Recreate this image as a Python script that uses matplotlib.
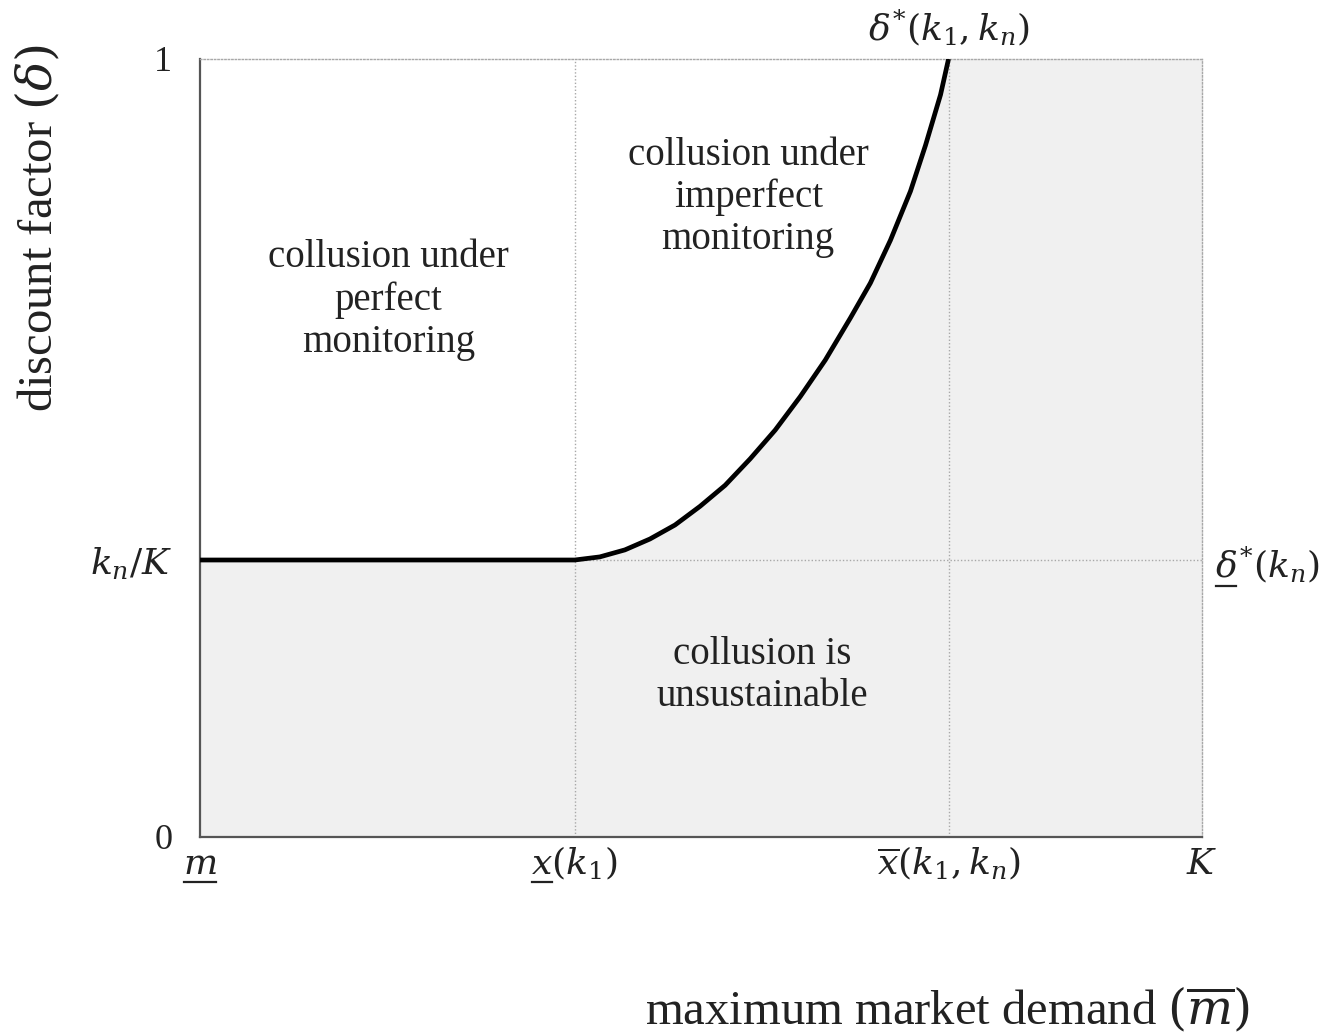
import matplotlib
matplotlib.use("Agg")
import matplotlib.pyplot as plt
from matplotlib.lines import Line2D
import numpy as np

plt.rcParams["font.family"] = ["Liberation Serif", "DejaVu Serif"]
plt.rcParams["mathtext.fontset"] = "dejavuserif"

# thresholds on the demand axis (share of K) and on the discount factor
x_low = 0.374      # x(k1)
x_high = 0.747     # xbar(k1, kn)
delta_low = 0.356  # kn / K

# critical discount factor between x(k1) and xbar(k1, kn)
curve_x = [0.374, 0.399, 0.424, 0.449, 0.474, 0.499, 0.524, 0.549, 0.574,
           0.599, 0.624, 0.649, 0.669, 0.689, 0.709, 0.724, 0.739, 0.747]
curve_y = [0.356, 0.360, 0.369, 0.383, 0.401, 0.425, 0.452, 0.486, 0.523,
           0.566, 0.613, 0.667, 0.712, 0.767, 0.830, 0.889, 0.954, 1.000]

x_ticks = [0.0, x_low, x_high, 1.0]
x_labels = [r"$m$", r"$x(k_1)$", r"$\overline{x}(k_1,k_n)$", r"$K$"]
x_underlined = [r"$m$", r"$x$", None, None]   # leading symbol to underline
y_ticks = [0.0, delta_low, 1.0]
y_labels = ["0", r"$k_n/K$", "1"]

text_color = "#222222"
fill_color = "#f0f0f0"
grid_color = "#a8a8a8"

fig = plt.figure(figsize=(13.38, 10.36), dpi=100)
ax = fig.add_axes([0.1495, 0.1921, 0.7489, 0.7510])

# boundary: flat part, rising part, then the top of the box
bx = np.concatenate([[0.0], curve_x, [1.0]])
by = np.concatenate([[delta_low], curve_y, [1.0]])
ax.fill_between(bx, 0, by, color=fill_color, lw=0, zorder=1)

dots = (0, (1, 1.5))
for xv in (x_low, x_high):
    ax.axvline(xv, color=grid_color, ls=dots, lw=1, zorder=2)
ax.axhline(delta_low, color=grid_color, ls=dots, lw=1, zorder=2)

ax.plot(np.concatenate([[0.0], curve_x]), np.concatenate([[delta_low], curve_y]),
        color="black", lw=3.4, solid_capstyle="butt", solid_joinstyle="round",
        zorder=4)

ax.set_xlim(0, 1)
ax.set_ylim(0, 1)

for side in ("top", "right"):
    ax.spines[side].set_color(grid_color)
    ax.spines[side].set_linestyle(dots)
    ax.spines[side].set_linewidth(1)
for side in ("left", "bottom"):
    ax.spines[side].set_color("#555555")
    ax.spines[side].set_linewidth(1.6)

math_fs = 26
ax.set_xticks([])
ax.set_yticks(y_ticks)
ax.set_yticklabels(y_labels, fontsize=26, color=text_color)
ax.tick_params(axis="y", length=0, pad=20)

xtrans = ax.get_xaxis_transform()
underlined = []
for xv, lab, sym in zip(x_ticks, x_labels, x_underlined):
    t = ax.text(xv, -0.0476, lab, transform=xtrans, fontsize=math_fs,
                color=text_color, ha="center", va="baseline")
    if sym:
        underlined.append((t, sym))

ax.text(x_high, 1.0244, r"$\delta^{*}(k_1,k_n)$", fontsize=math_fs,
        color=text_color, ha="center", va="baseline", transform=xtrans)
t = ax.text(1.013, 0.333, r"$\delta^{*}(k_n)$", fontsize=math_fs,
            color=text_color, ha="left", va="baseline", transform=ax.transAxes)
underlined.append((t, r"$\delta$"))

ax.set_xlabel(r"maximum market demand $(\overline{m})$", fontsize=35,
              color=text_color)
ax.xaxis.set_label_coords(0.746, -0.222)
ax.xaxis.label.set_verticalalignment("center")
ax.set_ylabel(r"discount factor $(\delta)$", fontsize=35, color=text_color)
ax.yaxis.set_label_coords(-0.162, 0.783)
ax.yaxis.label.set_verticalalignment("center")

region_kw = dict(fontsize=28, color=text_color, ha="center", va="center",
                 linespacing=1.18, zorder=5)
ax.text(0.188, 0.69, "collusion under\nperfect\nmonitoring", **region_kw)
ax.text(0.547, 0.822, "collusion under\nimperfect\nmonitoring", **region_kw)
ax.text(0.561, 0.208, "collusion is\nunsustainable", **region_kw)

# mathtext has no \underline: draw a rule under the leading symbol
fig.canvas.draw()
renderer = fig.canvas.get_renderer()
to_fig = fig.transFigure.inverted()
for t, sym in underlined:
    bb = t.get_window_extent(renderer)
    probe = fig.text(0, 0, sym, fontsize=t.get_fontsize())
    w = probe.get_window_extent(renderer).width
    probe.remove()
    base_y = t.get_transform().transform(t.get_position())[1]
    x0, x1 = bb.x0 + 1, bb.x0 + w - 1
    y = base_y - 8
    p0 = to_fig.transform((x0, y))
    p1 = to_fig.transform((x1, y))
    fig.add_artist(Line2D([p0[0], p1[0]], [p0[1], p1[1]], lw=1.6,
                          color=text_color, transform=fig.transFigure))

fig.savefig("out.png", dpi=100)
